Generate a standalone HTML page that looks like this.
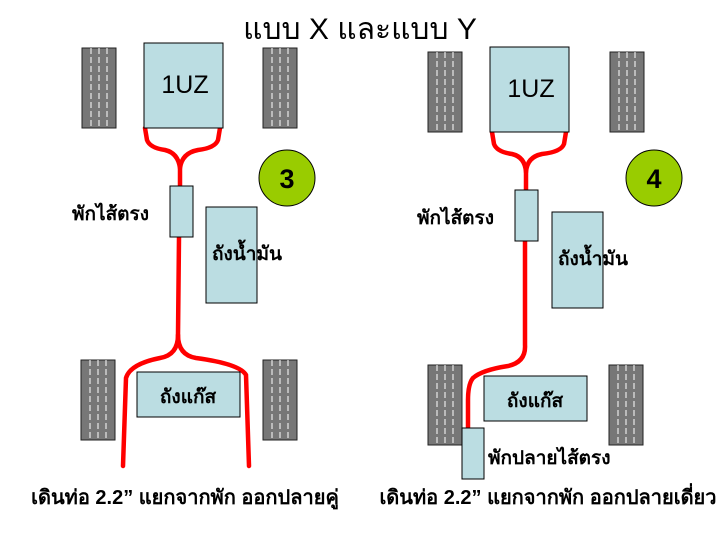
<!DOCTYPE html>
<html><head><meta charset="utf-8"><style>
body{margin:0;background:#fff}
svg{display:block}
text{font-family:"Liberation Sans","Noto Sans CJK SC",sans-serif;font-weight:bold;fill:#000}
</style></head><body>
<svg width="720" height="540" viewBox="0 0 720 540" xmlns="http://www.w3.org/2000/svg">
<defs>
<g id="tire">
<rect x="0" y="0" width="34" height="80" fill="#777" stroke="#222" stroke-width="1"/>
<line x1="9" y1="0" x2="9" y2="80" stroke="#fff" stroke-width="1" stroke-dasharray="6,3"/>
<line x1="17" y1="0" x2="17" y2="80" stroke="#fff" stroke-width="1" stroke-dasharray="6,3"/>
<line x1="25" y1="0" x2="25" y2="80" stroke="#fff" stroke-width="1" stroke-dasharray="6,3"/>
</g>
</defs>
<text x="360" y="39" font-size="30" text-anchor="middle" style="font-weight:normal">แบบ X และแบบ Y</text>

<!-- LEFT -->
<use href="#tire" x="82" y="48"/>
<use href="#tire" x="263" y="48"/>
<use href="#tire" x="81" y="360"/>
<use href="#tire" x="263" y="360"/>
<g fill="none" stroke="#f00" stroke-width="4.5" stroke-linecap="round">
<path d="M145 128 L147 140 Q150 148 165 150 Q178 153 180 168 L180 186"/>
<path d="M220 128 L218 140 Q215 148 198 150 Q182 153 180 168"/>
<path d="M179 237 L178 335 Q178 355 160 358 Q130 364 126 378 L123 466"/>
<path d="M178 335 Q178 355 196 358 Q240 364 246 375 L249 466"/>
</g>
<rect x="144" y="43" width="79" height="85" fill="#bbdde2" stroke="#000"/>
<text x="185" y="93" font-size="25" text-anchor="middle" style="font-weight:normal">1UZ</text>
<circle cx="287" cy="178" r="28" fill="#99cc00" stroke="#000"/>
<text x="287" y="188" font-size="27" text-anchor="middle">3</text>
<rect x="170" y="186" width="23" height="51" fill="#bbdde2" stroke="#000"/>
<text x="72" y="220" font-size="19">พักไส้ตรง</text>
<rect x="206" y="207" width="51" height="96" fill="#bbdde2" stroke="#000"/>
<text x="212" y="260" font-size="19">ถังน้ำมัน</text>
<rect x="137" y="372" width="103" height="45" fill="#bbdde2" stroke="#000"/>
<text x="188" y="403" font-size="19" text-anchor="middle">ถังแก๊ส</text>
<text x="185" y="504" font-size="20" text-anchor="middle">เดินท่อ 2.2” แยกจากพัก ออกปลายคู่</text>

<!-- RIGHT -->
<use href="#tire" x="428" y="52"/>
<use href="#tire" x="610" y="52"/>
<use href="#tire" x="428" y="365"/>
<use href="#tire" x="609" y="365"/>
<g fill="none" stroke="#f00" stroke-width="4.5" stroke-linecap="round">
<path d="M492 132 L494 144 Q497 152 512 154 Q525 157 526 172 L526 190"/>
<path d="M566 132 L564 144 Q561 152 542 154 Q527 157 526 172"/>
<path d="M525 241 L525 345 Q526 362 508 366 Q482 370 473 378 Q468 384 468 400 L468 428"/>
</g>
<rect x="490" y="47" width="79" height="85" fill="#bbdde2" stroke="#000"/>
<text x="531" y="97" font-size="25" text-anchor="middle" style="font-weight:normal">1UZ</text>
<circle cx="654" cy="178" r="28" fill="#99cc00" stroke="#000"/>
<text x="654" y="188" font-size="27" text-anchor="middle">4</text>
<rect x="515" y="190" width="23" height="51" fill="#bbdde2" stroke="#000"/>
<text x="417" y="224" font-size="19">พักไส้ตรง</text>
<rect x="552" y="212" width="51" height="96" fill="#bbdde2" stroke="#000"/>
<text x="558" y="265" font-size="19">ถังน้ำมัน</text>
<rect x="484" y="376" width="103" height="45" fill="#bbdde2" stroke="#000"/>
<text x="535" y="407" font-size="19" text-anchor="middle">ถังแก๊ส</text>
<rect x="462" y="428" width="22" height="51" fill="#bbdde2" stroke="#000"/>
<text x="488" y="464" font-size="19">พักปลายไส้ตรง</text>
<text x="548" y="504" font-size="20" text-anchor="middle">เดินท่อ 2.2” แยกจากพัก ออกปลายเดี่ยว</text>
</svg>
</body></html>
